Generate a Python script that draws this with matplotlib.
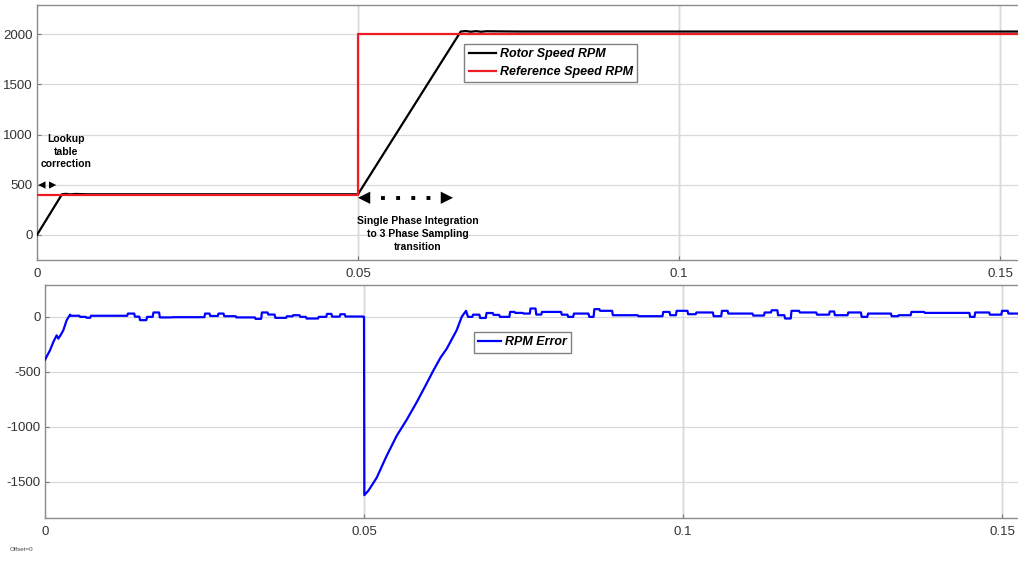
import numpy as np
import matplotlib
matplotlib.use('Agg')
import matplotlib.pyplot as plt

plt.rcParams['font.family'] = ['Liberation Sans', 'DejaVu Sans']
plt.rcParams['axes.unicode_minus'] = False

# ---- reference / rotor speed (rpm) ----
ref_t = [0.0, 0.05, 0.05, 0.1528]
ref_v = [400, 400, 2000, 2000]

rotor_t = [0.0, 0.0039, 0.0045, 0.0052, 0.0060, 0.0080, 0.0500,
           0.0660, 0.0668, 0.0676, 0.0684, 0.0692, 0.0700, 0.0750, 0.1528]
rotor_v = [0, 405, 409, 404, 408, 405, 405,
           2026, 2031, 2024, 2030, 2024, 2029, 2026, 2026]

# ---- RPM error: linear pieces (start ramp, recovery ramp) ----
err_start_t = [0.0, 0.00078, 0.0013, 0.00183, 0.00209, 0.00235, 0.00287, 0.0034, 0.00392]
err_start_v = [-390, -305, -229, -168, -198, -175, -122, -30, 20]

err_drop_t = [0.0500, 0.05005, 0.05070, 0.05199, 0.05350, 0.05512, 0.05670, 0.05825,
              0.05960, 0.06087, 0.06200, 0.06296, 0.06380, 0.06452, 0.06531, 0.06599]
err_drop_v = [0, -1622, -1580, -1463, -1270, -1082, -935, -777,
              -630, -488, -370, -290, -200, -122, 0, 55]

# ---- RPM error: step ripple (level edges, level values) ----
rip1_edges = [0.0040, 0.0055, 0.0065, 0.0072, 0.0130, 0.0141, 0.0149, 0.0160, 0.0170,
              0.0180, 0.0200, 0.0251, 0.0259, 0.0272, 0.0281, 0.0300, 0.0330, 0.0340,
              0.0350, 0.0361, 0.0379, 0.0389, 0.0400, 0.0410, 0.0429, 0.0442, 0.0450,
              0.0463, 0.0471, 0.0500]
rip1_vals = [10, 0, -8, 10, 30, 2, -30, 0, 40,
             -5, -3, 30, 8, 30, 6, -5, -18, 40,
             21, -9, 5, 15, 0, -15, 0, 27, 2,
             24, 3]

rip2_edges = [0.0663, 0.0671, 0.0682, 0.0692, 0.0703, 0.0713, 0.0729, 0.0737, 0.0750,
              0.0761, 0.0770, 0.0779, 0.0810, 0.0820, 0.0829, 0.0853, 0.0861, 0.0870,
              0.0890, 0.0930, 0.0969, 0.0980, 0.0990, 0.1008, 0.1021, 0.1048, 0.1061,
              0.1071, 0.1110, 0.1128, 0.1139, 0.1149, 0.1160, 0.1170, 0.1183, 0.1210,
              0.1230, 0.1238, 0.1259, 0.1280, 0.1290, 0.1327, 0.1338, 0.1358, 0.1379,
              0.1450, 0.1458, 0.1481, 0.1500, 0.1510, 0.1528]
rip2_vals = [0, 20, -10, 35, 18, 0, 45, 36, 30,
             76, 21, 45, 20, 0, 30, 0, 70, 55,
             15, 6, 45, 15, 55, 24, 40, 6, 55,
             30, 12, 40, 60, 15, -15, 55, 40, 20,
             49, 15, 40, 0, 30, 6, 15, 45, 36,
             0, 40, 20, 55, 30]


def steps_to_line(edges, vals):
    xs, ys = [], []
    for i, v in enumerate(vals):
        xs += [edges[i], edges[i + 1] - 0.00012]
        ys += [v, v]
    return xs, ys


r1x, r1y = steps_to_line(rip1_edges, rip1_vals)
r2x, r2y = steps_to_line(rip2_edges, rip2_vals)
err_t = err_start_t + r1x + err_drop_t + r2x
err_v = err_start_v + r1y + err_drop_v + r2y

fig = plt.figure(figsize=(10.18, 5.61), dpi=100)

grid_kw = dict(color='#d9d9d9', linewidth=0.9)
tick_col = '#333333'


def style(ax, xmax, ylo, yhi, yticks):
    ax.set_xlim(0, xmax)
    ax.set_ylim(ylo, yhi)
    ax.set_xticks([0, 0.05, 0.1, 0.15])
    ax.set_xticklabels(['0', '0.05', '0.1', '0.15'])
    ax.set_yticks(yticks)
    ax.grid(True, **grid_kw)
    for x in [0.05, 0.1, 0.15]:
        ax.axvline(x, color='#c4c4c4', lw=1.0, zorder=0.5)
    ax.tick_params(direction='in', length=3, colors='#777777', labelcolor=tick_col,
                   labelsize=9.5)
    ax.tick_params(axis='y', pad=3)
    ax.tick_params(axis='x', pad=6)
    for s in ['left', 'top', 'bottom']:
        ax.spines[s].set_color('#8c8c8c')
        ax.spines[s].set_linewidth(1.0)
    ax.spines['right'].set_visible(False)


def head(ax, tip, tail, size):
    ax.annotate('', xy=tip, xytext=tail,
                arrowprops=dict(arrowstyle='-|>', color='black', lw=0.01,
                                mutation_scale=size, shrinkA=0, shrinkB=0))


# ---- top: speeds ----
ax1 = fig.add_axes([0.0363, 0.5365, 0.9637, 0.4545])
style(ax1, 0.1528, -250, 2290, [0, 500, 1000, 1500, 2000])
ax1.plot(rotor_t, rotor_v, color='black', lw=1.6, label='Rotor Speed RPM', zorder=3)
ax1.plot(ref_t, ref_v, color='#ee1c24', lw=1.6, label='Reference Speed RPM', zorder=4)
leg1 = ax1.legend(loc='upper left', bbox_to_anchor=(0.4355, 0.847),
                  prop=dict(style='italic', weight='bold', size=9),
                  frameon=True, fancybox=False, edgecolor='#808080', framealpha=1,
                  handlelength=2.2, handletextpad=0.3, borderpad=0.35, labelspacing=0.45,
                  borderaxespad=0)
leg1.get_frame().set_linewidth(1.0)

ax1.text(0.0045, 830, 'Lookup\ntable\ncorrection', ha='center', va='center',
         fontsize=7.5, fontweight='bold', linespacing=1.35)
# short two-headed marker
head(ax1, (0.0002, 497), (0.0016, 497), 13)
head(ax1, (0.0030, 497), (0.0016, 497), 13)
# long dotted arrow
ax1.plot([0.0536, 0.0616], [370, 370], color='black', lw=2.8,
         linestyle=(0, (1.0, 2.9)), dash_capstyle='butt', zorder=5)
head(ax1, (0.0500, 370), (0.0522, 370), 22)
head(ax1, (0.0648, 370), (0.0626, 370), 22)
ax1.text(0.0593, 10, 'Single Phase Integration\nto 3 Phase Sampling\ntransition',
         ha='center', va='center', fontsize=7.5, fontweight='bold', linespacing=1.35)

# ---- bottom: error ----
ax2 = fig.add_axes([0.0442, 0.0766, 0.9558, 0.4154])
style(ax2, 0.1525, -1830, 290, [-1500, -1000, -500, 0])
ax2.plot(err_t, err_v, color='#0000ff', lw=1.6, label='RPM Error', zorder=3)
leg2 = ax2.legend(loc='upper left', bbox_to_anchor=(0.441, 0.798),
                  prop=dict(style='italic', weight='bold', size=9),
                  frameon=True, fancybox=False, edgecolor='#808080', framealpha=1,
                  handlelength=1.8, handletextpad=0.3, borderpad=0.35, borderaxespad=0)
leg2.get_frame().set_linewidth(1.0)

fig.text(0.01, 0.018, 'Offset=0', fontsize=4.5, color='#444444')

fig.savefig('out.png', dpi=100)
